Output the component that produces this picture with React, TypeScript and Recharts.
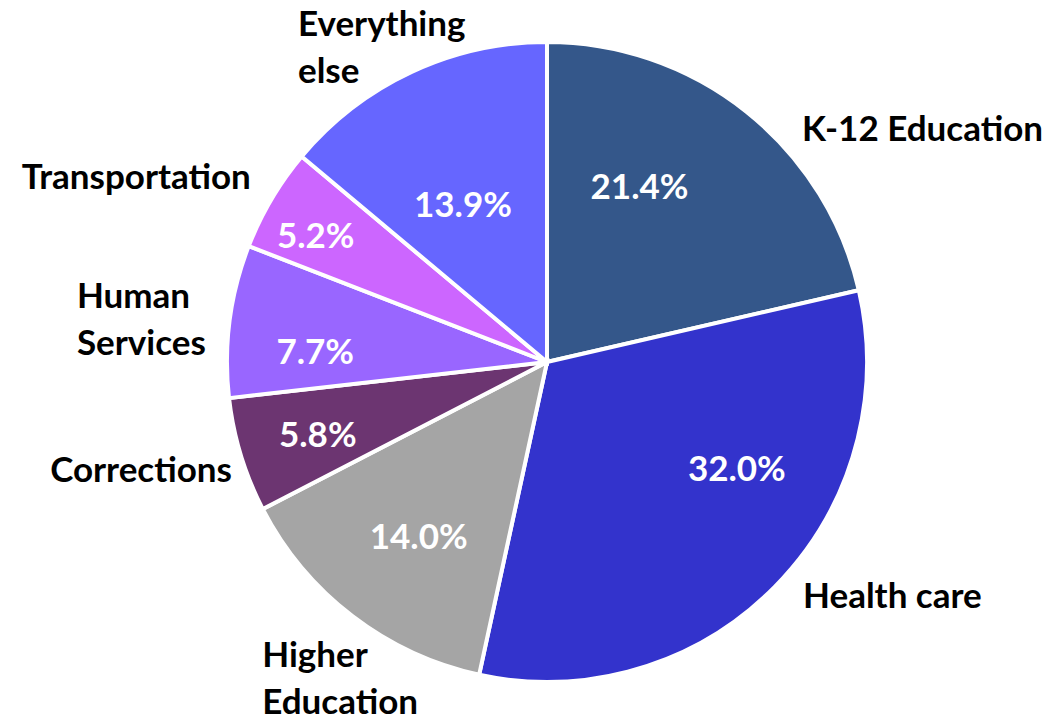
import { Cell, Pie, PieChart } from "recharts";

// slice order: clockwise from 12 o'clock
const categories = [
  "K-12 Education",
  "Health care",
  "Higher\nEducation",
  "Corrections",
  "Human\nServices",
  "Transportation",
  "Everything\nelse",
];
const shares = [21.4, 32.0, 14.0, 5.8, 7.7, 5.2, 13.9];
const colors = ["#34578A", "#3333CC", "#A5A5A5", "#6C3571", "#9966FF", "#CC66FF", "#6666FF"];

// label tweaks (px) relative to the slice's mid-angle point, to mimic the Excel layout
const PCT_NUDGE: [number, number][] = [
  [-43, 7], [35, -34], [4, 14], [-21, 22], [-16, 30], [-44, -3], [8, 52],
];
const NAME_NUDGE: [number, number][] = [
  [37, 53], [7, 0], [-72, 27], [-162, 18], [-123, -9], [-224, 5], [-101, -9],
];

const FONT = "Lato, 'Open Sans', sans-serif";
const RAD = Math.PI / 180;

const data = categories.map((name, i) => ({ name, value: shares[i] }));

function renderLabel(props: any) {
  const { cx, cy, midAngle, outerRadius, index, value } = props;
  const cos = Math.cos(-midAngle * RAD);
  const sin = Math.sin(-midAngle * RAD);
  const pr = outerRadius * 0.68;
  const nr = outerRadius + 30;
  const px = cx + pr * cos + PCT_NUDGE[index][0];
  const py = cy + pr * sin + PCT_NUDGE[index][1];
  const nx = cx + nr * cos + NAME_NUDGE[index][0];
  const ny = cy + nr * sin + NAME_NUDGE[index][1];
  const lines = categories[index].split("\n");
  return (
    <g key={`lbl-${index}`}>
      <text
        x={px}
        y={py}
        textAnchor="middle"
        fill="#FFFFFF"
        fontFamily={FONT}
        fontWeight={700}
        fontSize={35}
      >
        {`${Number(value).toFixed(1)}%`}
      </text>
      <text x={nx} y={ny} textAnchor="start" fill="#000000" fontFamily={FONT} fontWeight={700} fontSize={35}>
        {lines.map((ln, i) => (
          <tspan key={i} x={nx} dy={i === 0 ? 0 : 47}>
            {ln}
          </tspan>
        ))}
      </text>
    </g>
  );
}

export default function App() {
  return (
    <div style={{ position: "absolute", top: 0, left: 0, width: 1048, height: 722, background: "#FFFFFF" }}>
      <PieChart width={1048} height={722} margin={{ top: 0, right: 0, bottom: 0, left: 0 }}>
        <Pie
          data={data}
          dataKey="value"
          nameKey="name"
          cx={547}
          cy={362}
          outerRadius={320}
          startAngle={90}
          endAngle={-270}
          stroke="#FFFFFF"
          strokeWidth={4}
          labelLine={false}
          label={renderLabel}
          isAnimationActive={false}
        >
          {data.map((d, i) => (
            <Cell key={d.name} fill={colors[i]} />
          ))}
        </Pie>
      </PieChart>
    </div>
  );
}
